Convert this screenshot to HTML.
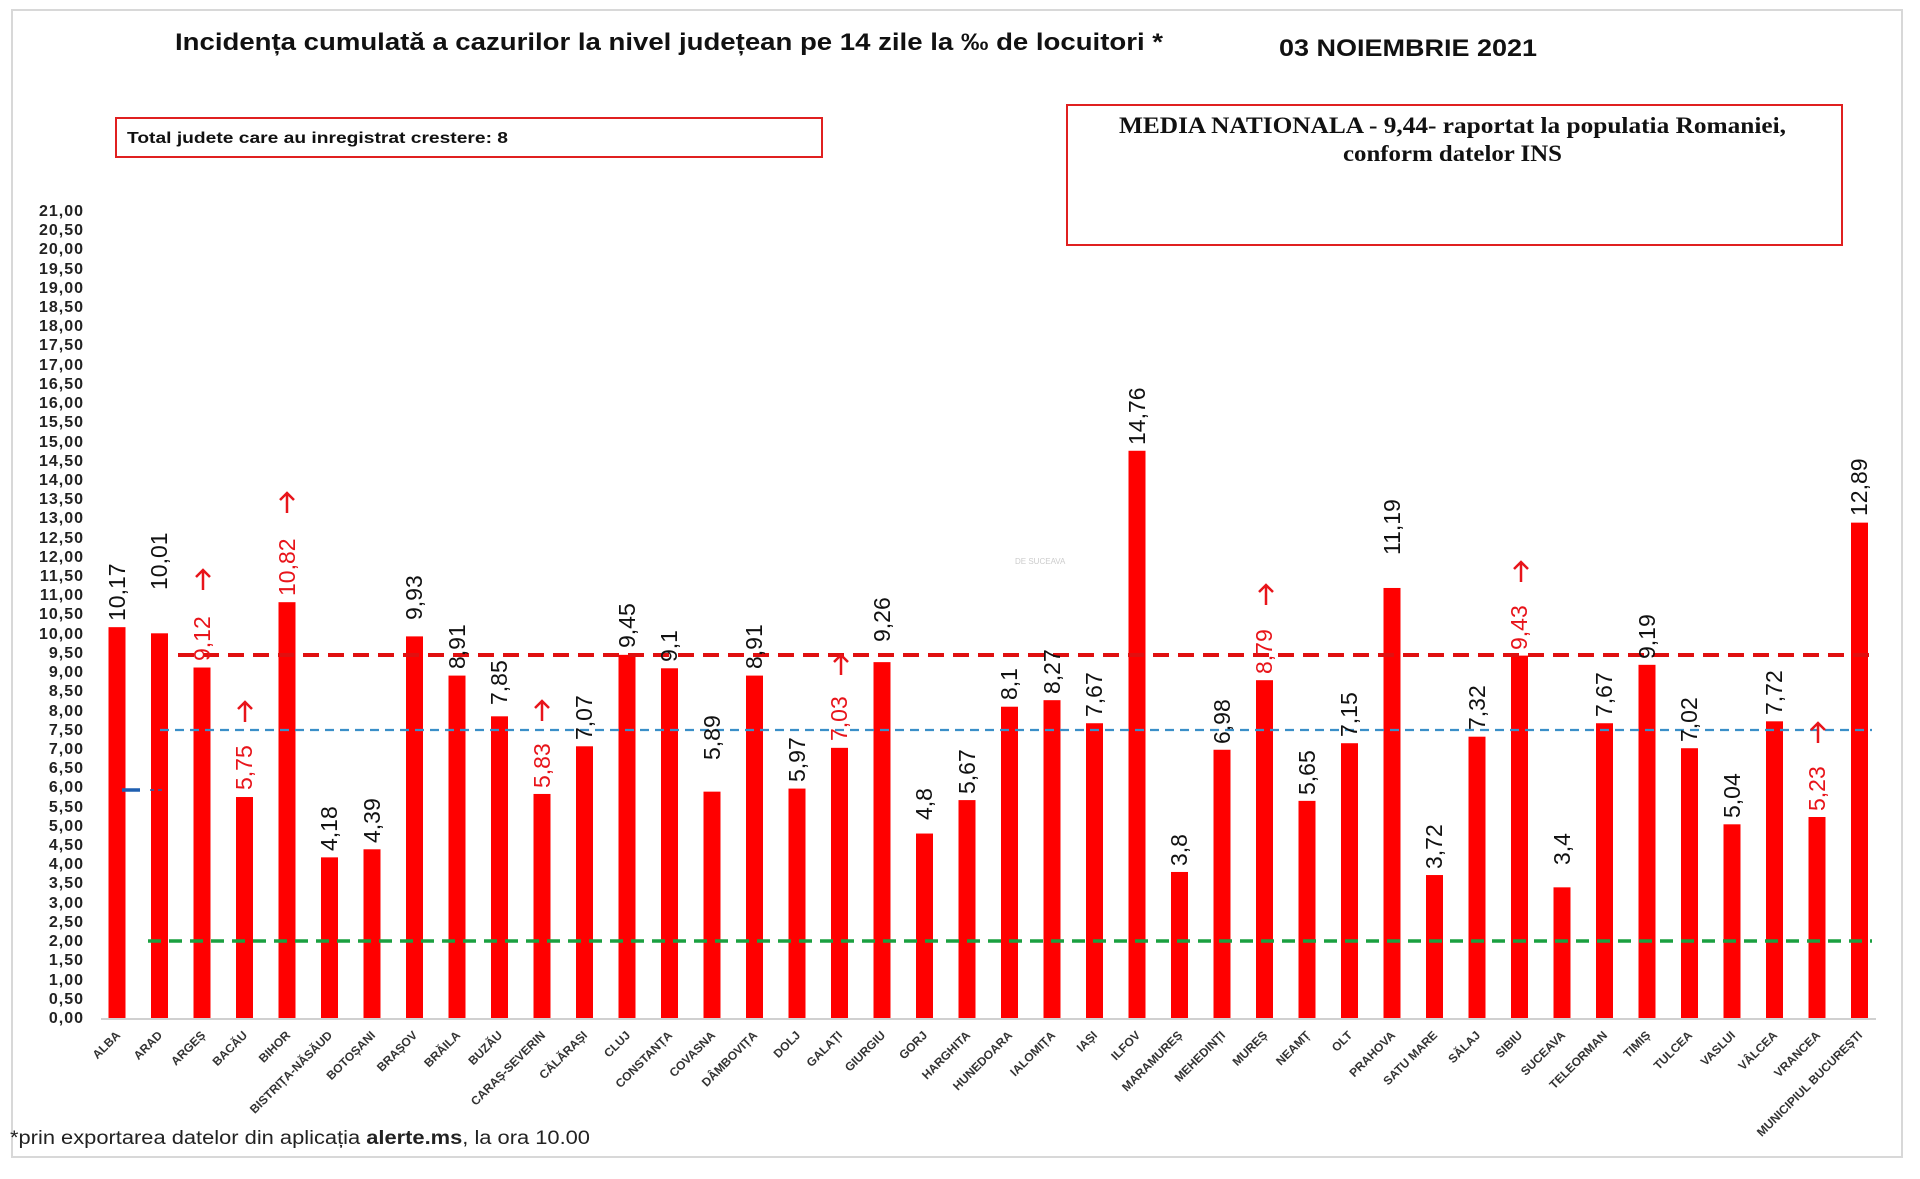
<!DOCTYPE html>
<html><head><meta charset="utf-8"><style>
html,body{margin:0;padding:0;background:#fff;}
svg{display:block;font-family:"Liberation Sans",sans-serif;}
.yt{font-size:16px;font-weight:bold;text-anchor:end;fill:#222;letter-spacing:1px;}
.v{font-size:23px;fill:#111;}
.r{fill:#e8141a;}
.xl{font-size:12px;font-weight:bold;text-anchor:end;fill:#333;}
</style></head><body>
<svg width="1920" height="1179" viewBox="0 0 1920 1179">
<rect x="12" y="10" width="1890" height="1147" fill="none" stroke="#d8d8d8" stroke-width="2"/>
<text x="175" y="50" font-size="24" font-weight="bold" fill="#111" textLength="988" lengthAdjust="spacingAndGlyphs">Incidența cumulată a cazurilor la nivel județean pe 14 zile la ‰ de locuitori *</text>
<text x="1279" y="56" font-size="24" font-weight="bold" fill="#111" textLength="258" lengthAdjust="spacingAndGlyphs">03 NOIEMBRIE 2021</text>
<rect x="116" y="118" width="706" height="39" fill="none" stroke="#e02020" stroke-width="2"/>
<text x="127" y="143" font-size="16" font-weight="bold" fill="#111" textLength="381" lengthAdjust="spacingAndGlyphs">Total judete care au inregistrat crestere: 8</text>
<rect x="1067" y="105" width="775" height="140" fill="none" stroke="#e02020" stroke-width="2"/>
<text x="1119" y="133" font-size="23" font-weight="bold" font-family="Liberation Serif,serif" fill="#111" textLength="667" lengthAdjust="spacingAndGlyphs">MEDIA NATIONALA - 9,44-  raportat la populatia Romaniei,</text>
<text x="1343" y="161" font-size="23" font-weight="bold" font-family="Liberation Serif,serif" fill="#111" textLength="219" lengthAdjust="spacingAndGlyphs">conform datelor INS</text>
<g class="yt">
<text x="84" y="1023">0,00</text><text x="84" y="1004">0,50</text><text x="84" y="985">1,00</text><text x="84" y="965">1,50</text><text x="84" y="946">2,00</text><text x="84" y="927">2,50</text><text x="84" y="908">3,00</text><text x="84" y="888">3,50</text><text x="84" y="869">4,00</text><text x="84" y="850">4,50</text><text x="84" y="831">5,00</text><text x="84" y="812">5,50</text><text x="84" y="792">6,00</text><text x="84" y="773">6,50</text><text x="84" y="754">7,00</text><text x="84" y="735">7,50</text><text x="84" y="716">8,00</text><text x="84" y="696">8,50</text><text x="84" y="677">9,00</text><text x="84" y="658">9,50</text><text x="84" y="639">10,00</text><text x="84" y="619">10,50</text><text x="84" y="600">11,00</text><text x="84" y="581">11,50</text><text x="84" y="562">12,00</text><text x="84" y="543">12,50</text><text x="84" y="523">13,00</text><text x="84" y="504">13,50</text><text x="84" y="485">14,00</text><text x="84" y="466">14,50</text><text x="84" y="447">15,00</text><text x="84" y="427">15,50</text><text x="84" y="408">16,00</text><text x="84" y="389">16,50</text><text x="84" y="370">17,00</text><text x="84" y="350">17,50</text><text x="84" y="331">18,00</text><text x="84" y="312">18,50</text><text x="84" y="293">19,00</text><text x="84" y="274">19,50</text><text x="84" y="254">20,00</text><text x="84" y="235">20,50</text><text x="84" y="216">21,00</text>
</g>
<line x1="101" y1="1019" x2="1876" y2="1019" stroke="#d0d0d0" stroke-width="2"/>
<g fill="#ff0000" transform="translate(0,1018) scale(1,-38.43)">
<rect x="108.5" y="0" width="17" height="10.17"/><rect x="151" y="0" width="17" height="10.01"/><rect x="193.5" y="0" width="17" height="9.12"/><rect x="236" y="0" width="17" height="5.75"/><rect x="278.5" y="0" width="17" height="10.82"/><rect x="321" y="0" width="17" height="4.18"/><rect x="363.5" y="0" width="17" height="4.39"/><rect x="406" y="0" width="17" height="9.93"/><rect x="448.5" y="0" width="17" height="8.91"/><rect x="491" y="0" width="17" height="7.85"/><rect x="533.5" y="0" width="17" height="5.83"/><rect x="576" y="0" width="17" height="7.07"/><rect x="618.5" y="0" width="17" height="9.45"/><rect x="661" y="0" width="17" height="9.1"/><rect x="703.5" y="0" width="17" height="5.89"/><rect x="746" y="0" width="17" height="8.91"/><rect x="788.5" y="0" width="17" height="5.97"/><rect x="831" y="0" width="17" height="7.03"/><rect x="873.5" y="0" width="17" height="9.26"/><rect x="916" y="0" width="17" height="4.8"/><rect x="958.5" y="0" width="17" height="5.67"/><rect x="1001" y="0" width="17" height="8.1"/><rect x="1043.5" y="0" width="17" height="8.27"/><rect x="1086" y="0" width="17" height="7.67"/><rect x="1128.5" y="0" width="17" height="14.76"/><rect x="1171" y="0" width="17" height="3.8"/><rect x="1213.5" y="0" width="17" height="6.98"/><rect x="1256" y="0" width="17" height="8.79"/><rect x="1298.5" y="0" width="17" height="5.65"/><rect x="1341" y="0" width="17" height="7.15"/><rect x="1383.5" y="0" width="17" height="11.19"/><rect x="1426" y="0" width="17" height="3.72"/><rect x="1468.5" y="0" width="17" height="7.32"/><rect x="1511" y="0" width="17" height="9.43"/><rect x="1553.5" y="0" width="17" height="3.4"/><rect x="1596" y="0" width="17" height="7.67"/><rect x="1638.5" y="0" width="17" height="9.19"/><rect x="1681" y="0" width="17" height="7.02"/><rect x="1723.5" y="0" width="17" height="5.04"/><rect x="1766" y="0" width="17" height="7.72"/><rect x="1808.5" y="0" width="17" height="5.23"/><rect x="1851" y="0" width="17" height="12.89"/>
</g>
<line x1="178" y1="655" x2="1872" y2="655" stroke="#e01010" stroke-width="4" stroke-dasharray="16,9"/>
<line x1="160" y1="730" x2="1872" y2="730" stroke="#3a8fc8" stroke-width="2.2" stroke-dasharray="9,6"/>
<line x1="148" y1="941" x2="1872" y2="941" stroke="#1aa040" stroke-width="3.5" stroke-dasharray="13,8"/>
<line x1="122" y1="790" x2="140" y2="790" stroke="#1f5fb0" stroke-width="3.5"/>
<line x1="150" y1="790" x2="166" y2="790" stroke="#1f5fb0" stroke-width="1.5" stroke-dasharray="4,4"/>
<g class="v">
<text transform="translate(125,621) rotate(-90)">10,17</text>
<text transform="translate(167,590) rotate(-90)">10,01</text>
<text class="r" transform="translate(210,661) rotate(-90)">9,12</text>
<text class="r" transform="translate(252,790) rotate(-90)">5,75</text>
<text class="r" transform="translate(295,596) rotate(-90)">10,82</text>
<text transform="translate(337,851) rotate(-90)">4,18</text>
<text transform="translate(380,843) rotate(-90)">4,39</text>
<text transform="translate(422,620) rotate(-90)">9,93</text>
<text transform="translate(465,669) rotate(-90)">8,91</text>
<text transform="translate(507,705) rotate(-90)">7,85</text>
<text class="r" transform="translate(550,788) rotate(-90)">5,83</text>
<text transform="translate(592,740) rotate(-90)">7,07</text>
<text transform="translate(635,648) rotate(-90)">9,45</text>
<text transform="translate(677,662) rotate(-90)">9,1</text>
<text transform="translate(720,760) rotate(-90)">5,89</text>
<text transform="translate(762,669) rotate(-90)">8,91</text>
<text transform="translate(805,782) rotate(-90)">5,97</text>
<text class="r" transform="translate(847,741) rotate(-90)">7,03</text>
<text transform="translate(890,642) rotate(-90)">9,26</text>
<text transform="translate(932,820) rotate(-90)">4,8</text>
<text transform="translate(975,794) rotate(-90)">5,67</text>
<text transform="translate(1017,700) rotate(-90)">8,1</text>
<text transform="translate(1060,694) rotate(-90)">8,27</text>
<text transform="translate(1102,717) rotate(-90)">7,67</text>
<text transform="translate(1145,445) rotate(-90)">14,76</text>
<text transform="translate(1187,866) rotate(-90)">3,8</text>
<text transform="translate(1230,744) rotate(-90)">6,98</text>
<text class="r" transform="translate(1272,674) rotate(-90)">8,79</text>
<text transform="translate(1315,795) rotate(-90)">5,65</text>
<text transform="translate(1357,737) rotate(-90)">7,15</text>
<text transform="translate(1400,555) rotate(-90)">11,19</text>
<text transform="translate(1442,869) rotate(-90)">3,72</text>
<text transform="translate(1485,730) rotate(-90)">7,32</text>
<text class="r" transform="translate(1527,650) rotate(-90)">9,43</text>
<text transform="translate(1570,865) rotate(-90)">3,4</text>
<text transform="translate(1612,717) rotate(-90)">7,67</text>
<text transform="translate(1655,659) rotate(-90)">9,19</text>
<text transform="translate(1697,742) rotate(-90)">7,02</text>
<text transform="translate(1740,818) rotate(-90)">5,04</text>
<text transform="translate(1782,715) rotate(-90)">7,72</text>
<text class="r" transform="translate(1825,811) rotate(-90)">5,23</text>
<text transform="translate(1867,516) rotate(-90)">12,89</text>
</g>
<g stroke="#e8141a" stroke-width="2.5" fill="none">
<path d="M203,590 V570 M196,577 L203,570 L210,577"/>
<path d="M245,722 V702 M238,709 L245,702 L252,709"/>
<path d="M287,513 V493 M280,500 L287,493 L294,500"/>
<path d="M542,721 V701 M535,708 L542,701 L549,708"/>
<path d="M841,675 V655 M834,662 L841,655 L848,662"/>
<path d="M1266,605 V585 M1259,592 L1266,585 L1273,592"/>
<path d="M1521,582 V562 M1514,569 L1521,562 L1528,569"/>
<path d="M1818,743 V723 M1811,730 L1818,723 L1825,730"/>
</g>
<g class="xl">
<text transform="translate(121,1036) rotate(-45)">ALBA</text>
<text transform="translate(163,1036) rotate(-45)">ARAD</text>
<text transform="translate(206,1036) rotate(-45)">ARGEȘ</text>
<text transform="translate(248,1036) rotate(-45)">BACĂU</text>
<text transform="translate(291,1036) rotate(-45)">BIHOR</text>
<text transform="translate(333,1036) rotate(-45)">BISTRIȚA-NĂSĂUD</text>
<text transform="translate(376,1036) rotate(-45)">BOTOȘANI</text>
<text transform="translate(418,1036) rotate(-45)">BRAȘOV</text>
<text transform="translate(461,1036) rotate(-45)">BRĂILA</text>
<text transform="translate(503,1036) rotate(-45)">BUZĂU</text>
<text transform="translate(546,1036) rotate(-45)">CARAȘ-SEVERIN</text>
<text transform="translate(588,1036) rotate(-45)">CĂLĂRAȘI</text>
<text transform="translate(631,1036) rotate(-45)">CLUJ</text>
<text transform="translate(673,1036) rotate(-45)">CONSTANȚA</text>
<text transform="translate(716,1036) rotate(-45)">COVASNA</text>
<text transform="translate(758,1036) rotate(-45)">DÂMBOVIȚA</text>
<text transform="translate(801,1036) rotate(-45)">DOLJ</text>
<text transform="translate(843,1036) rotate(-45)">GALAȚI</text>
<text transform="translate(886,1036) rotate(-45)">GIURGIU</text>
<text transform="translate(928,1036) rotate(-45)">GORJ</text>
<text transform="translate(971,1036) rotate(-45)">HARGHITA</text>
<text transform="translate(1013,1036) rotate(-45)">HUNEDOARA</text>
<text transform="translate(1056,1036) rotate(-45)">IALOMIȚA</text>
<text transform="translate(1098,1036) rotate(-45)">IAȘI</text>
<text transform="translate(1141,1036) rotate(-45)">ILFOV</text>
<text transform="translate(1183,1036) rotate(-45)">MARAMUREȘ</text>
<text transform="translate(1226,1036) rotate(-45)">MEHEDINȚI</text>
<text transform="translate(1268,1036) rotate(-45)">MUREȘ</text>
<text transform="translate(1311,1036) rotate(-45)">NEAMȚ</text>
<text transform="translate(1353,1036) rotate(-45)">OLT</text>
<text transform="translate(1396,1036) rotate(-45)">PRAHOVA</text>
<text transform="translate(1438,1036) rotate(-45)">SATU MARE</text>
<text transform="translate(1481,1036) rotate(-45)">SĂLAJ</text>
<text transform="translate(1523,1036) rotate(-45)">SIBIU</text>
<text transform="translate(1566,1036) rotate(-45)">SUCEAVA</text>
<text transform="translate(1608,1036) rotate(-45)">TELEORMAN</text>
<text transform="translate(1651,1036) rotate(-45)">TIMIȘ</text>
<text transform="translate(1693,1036) rotate(-45)">TULCEA</text>
<text transform="translate(1736,1036) rotate(-45)">VASLUI</text>
<text transform="translate(1778,1036) rotate(-45)">VÂLCEA</text>
<text transform="translate(1821,1036) rotate(-45)">VRANCEA</text>
<text transform="translate(1863,1036) rotate(-45)">MUNICIPIUL BUCUREȘTI</text>
</g>
<text x="1015" y="564" font-size="8" fill="#ccc">DE SUCEAVA</text>
<text x="10" y="1144" font-size="19" fill="#222" textLength="580" lengthAdjust="spacingAndGlyphs">*prin exportarea datelor din aplicația <tspan font-weight="bold">alerte.ms</tspan>, la ora 10.00</text>
</svg>
</body></html>
